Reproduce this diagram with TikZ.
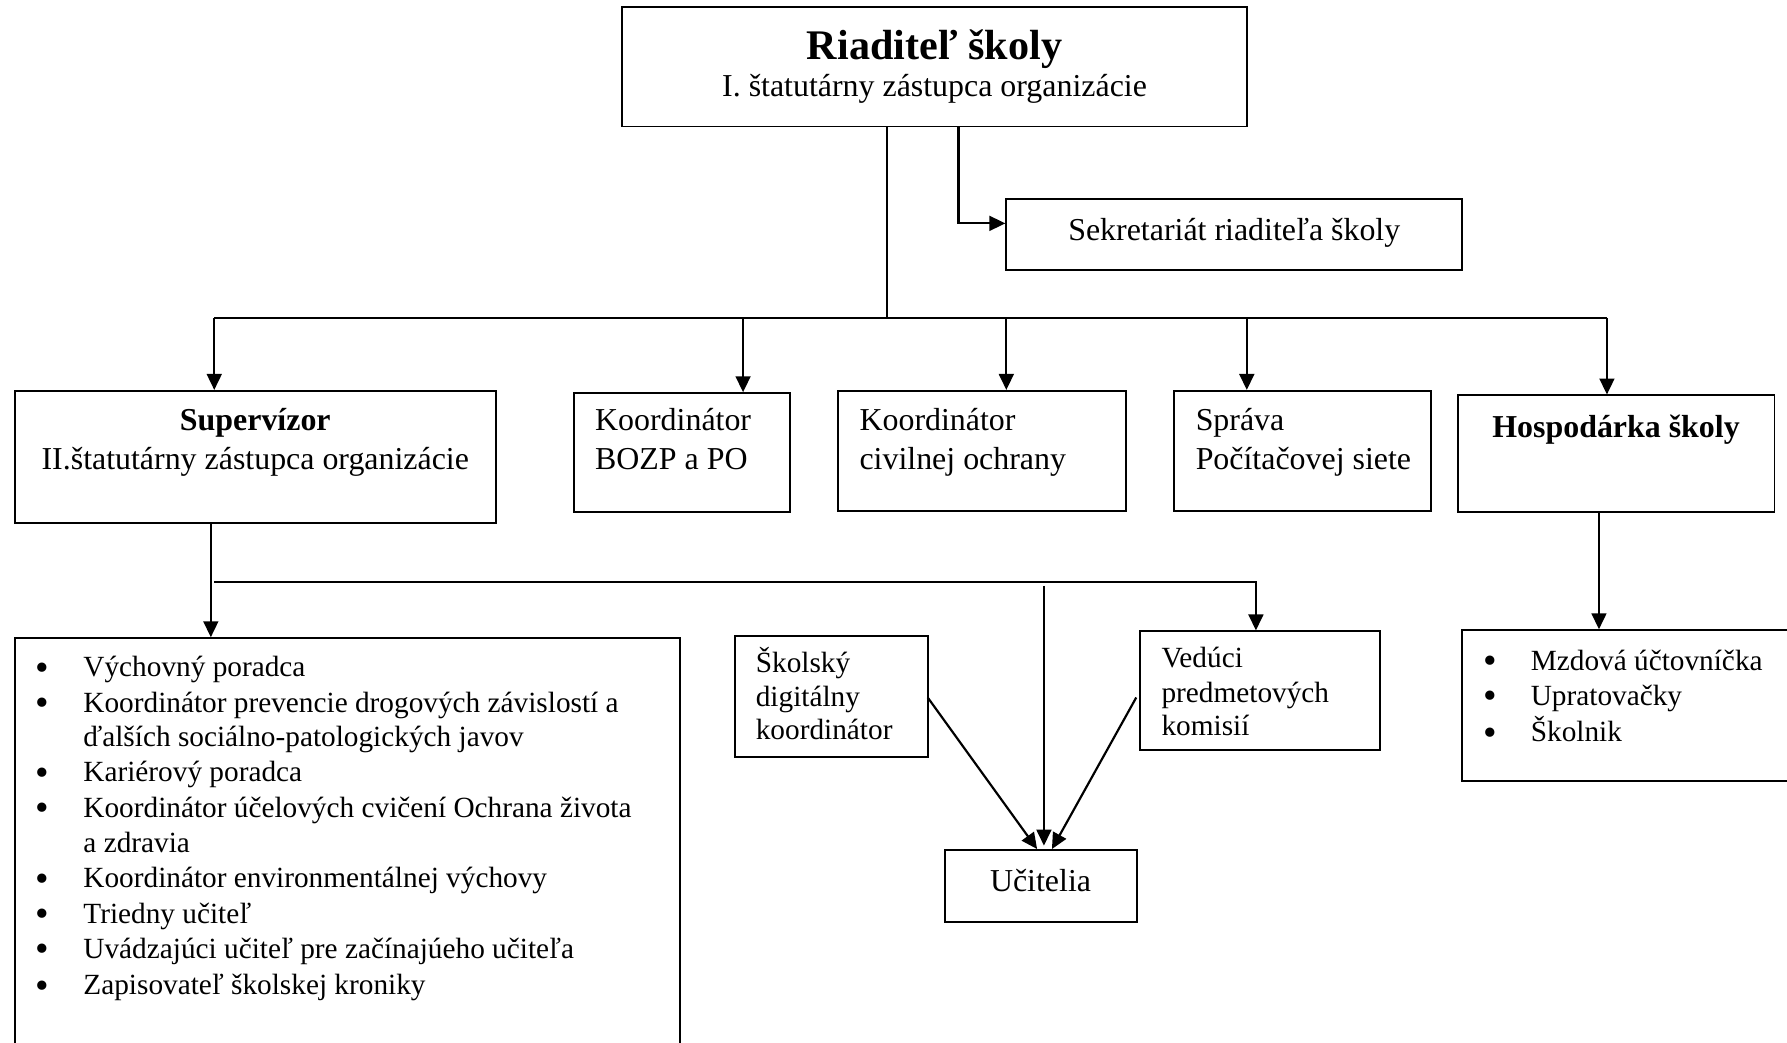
\documentclass[tikz,border=0pt]{standalone}
\usepackage{fontspec}
\setmainfont{Liberation Serif}
\usetikzlibrary{arrows.meta}
\begin{document}
\begin{tikzpicture}[x=1pt,y=-1pt,
  box/.style={draw, line width=1.7pt, inner sep=0pt},
  conn/.style={line width=1.9pt},
  arr/.style={conn, -{Triangle[length=14pt,width=13pt]}},
  big/.style={font=\fontsize{28}{34}\selectfont, inner sep=0pt},
  bigb/.style={font=\fontsize{28}{34}\selectfont\bfseries, inner sep=0pt},
  small/.style={font=\fontsize{25.7}{31}\selectfont, inner sep=0pt},
  bul/.style={font=\fontsize{34}{34}\selectfont, inner sep=0pt, anchor=base},
]
\useasboundingbox (0,0) rectangle (1568,915);
\clip (0,0) rectangle (1568,915);

% top box
\node[box, minimum width=548pt, minimum height=105pt] (riad) at (820,58.5) {};
\node[anchor=base, inner sep=0pt, font=\fontsize{37}{44}\selectfont\bfseries] (riadT) at (820,52) {Riaditeľ školy};
\node[big, anchor=base] (riadS) at (820,85) {I. štatutárny zástupca organizácie};

% secretariat
\node[box, minimum width=400pt, minimum height=62pt] (sek) at (1083,206) {};
\node[big, anchor=base] (sekT) at (1083,211) {Sekretariát riaditeľa školy};

% row 2
\node[box, minimum width=422pt, minimum height=116pt] (sup) at (224,401) {};
\node[bigb, anchor=base] (supT) at (224,378) {Supervízor};
\node[big, anchor=base] (supS) at (224,412) {II.štatutárny zástupca organizácie};

\node[box, minimum width=189pt, minimum height=104pt] (bozp) at (598.5,397) {};
\node[big, anchor=base west] (bozp1) at (522,378) {Koordinátor};
\node[big, anchor=base west] (bozp2) at (522,412) {BOZP a PO};

\node[box, minimum width=253pt, minimum height=105pt] (civ) at (861.5,395.5) {};
\node[big, anchor=base west] (civ1) at (754,378) {Koordinátor};
\node[big, anchor=base west] (civ2) at (754,412) {civilnej ochrany};

\node[box, minimum width=226pt, minimum height=105pt] (spr) at (1143,395.5) {};
\node[big, anchor=base west] (spr1) at (1049,378) {Správa};
\node[big, anchor=base west] (spr2) at (1049,412) {Počítačovej siete};

\node[box, minimum width=278pt, minimum height=102pt] (hosp) at (1418,398) {};
\node[bigb, anchor=base] (hospT) at (1418,384) {Hospodárka školy};

% supervisor list
\node[box, minimum width=584pt, minimum height=400pt] (slist) at (305,760) {};
\foreach \y/\b/\t in {594/1/Výchovný poradca,
  625/1/Koordinátor prevencie drogových závislostí a,
  655/0/ďalších sociálno-patologických javov,
  686/1/Kariérový poradca,
  717/1/Koordinátor účelových cvičení Ochrana života,
  748/0/a zdravia,
  779/1/Koordinátor environmentálnej výchovy,
  810/1/Triedny učiteľ,
  841/1/Uvádzajúci učiteľ pre začínajúeho učiteľa,
  873/1/Zapisovateľ školskej kroniky}{
  \ifnum\b=1 \node[bul] (sb\y) at (37,\y+3) {•};\fi
  \node[small, anchor=base west] (st\y) at (73,\y) {\t};
}

% middle boxes
\node[box, minimum width=169pt, minimum height=106pt] (skol) at (729.5,611) {};
\node[small, anchor=base west] (skol1) at (663,590) {Školský};
\node[small, anchor=base west] (skol2) at (663,620) {digitálny};
\node[small, anchor=base west] (skol3) at (663,649) {koordinátor};

\node[box, minimum width=211pt, minimum height=104pt] (ved) at (1105.5,606) {};
\node[small, anchor=base west] (ved1) at (1019,586) {Vedúci};
\node[small, anchor=base west] (ved2) at (1019,616) {predmetových};
\node[small, anchor=base west] (ved3) at (1019,645) {komisií};

\node[box, minimum width=169pt, minimum height=63pt] (ucit) at (913.5,777.5) {};
\node[big, anchor=base] (ucitT) at (913,782) {Učitelia};

% hospodarka list
\node[box, minimum width=317pt, minimum height=132pt] (hlist) at (1441.5,619) {};
\foreach \y/\t in {588/Mzdová účtovníčka, 619/Upratovačky, 651/Školnik}{
  \node[bul] (hb\y) at (1308,\y+3) {•};
  \node[small, anchor=base west] (ht\y) at (1343,\y) {\t};
}

% connectors
\coordinate (j0) at (778,279);
\coordinate (j1) at (188,279);
\coordinate (j2) at (652,279);
\coordinate (j3) at (883,279);
\coordinate (j4) at (1094,279);
\coordinate (j5) at (1410,279);
\coordinate (s0) at (841,196);
\draw[conn] (riad.south -| j0) -- (j0);
\draw[conn] (j1) -- (j5);
\draw[arr] (riad.south -| s0) -- (s0) -- (s0 -| sek.west);
\draw[arr] (j1) -- (j1 |- sup.north);
\draw[arr] (j2) -- (j2 |- bozp.north);
\draw[arr] (j3) -- (j3 |- civ.north);
\draw[arr] (j4) -- (j4 |- spr.north);
\draw[arr] (j5) -- (j5 |- hosp.north);

\coordinate (k0) at (185,459);
\draw[arr] (k0) -- (k0 |- slist.north);
\coordinate (h0) at (188,511);
\coordinate (h1) at (1102,511);
\draw[arr] (h0) -- (h1) -- (h1 |- ved.north);
\coordinate (m0) at (916,514);
\coordinate (u0) at (916,742);
\draw[arr] (m0) -- (u0);
\coordinate (u1) at (910,745);
\coordinate (u2) at (923,745);
\coordinate (a1) at (814,612);
\coordinate (a2) at (997,612);
\draw[arr] (a1) -- (u1);
\draw[arr] (a2) -- (u2);

\coordinate (q0) at (1403,449);
\draw[arr] (q0) -- (q0 |- hlist.north);
\end{tikzpicture}
\end{document}
